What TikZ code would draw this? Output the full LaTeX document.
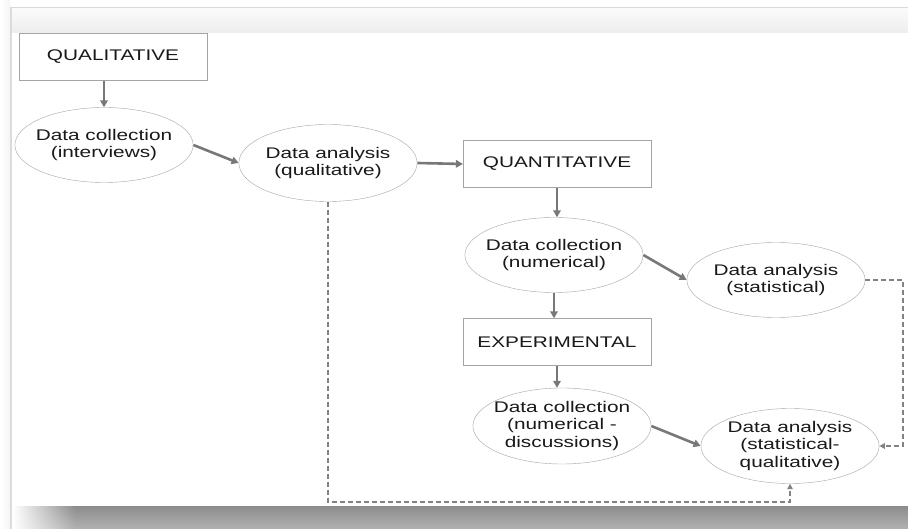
\documentclass[tikz,border=0pt]{standalone}
\usepackage{fontspec}
\setmainfont{Liberation Sans}
\usetikzlibrary{shapes.geometric,arrows.meta,fadings}
\definecolor{linegrey}{RGB}{165,165,165}
\definecolor{arrowgrey}{RGB}{120,120,120}
\definecolor{dashgrey}{RGB}{130,130,130}
\definecolor{inkgrey}{RGB}{25,25,25}
\definecolor{shadowgrey}{RGB}{140,140,140}
\tikzfading[name=shadowfade, left color=transparent!0, right color=transparent!100]

\begin{document}
\begin{tikzpicture}[x=1pt,y=-1pt,
  every node/.style={font=\fontsize{15.4}{17.6}\selectfont, text=inkgrey},
  stage/.style={draw=linegrey, thin, xscale=1.35, minimum width=139pt, minimum height=47pt, inner sep=0pt},
  oval/.style={ellipse, draw=linegrey, thin, xscale=1.35, minimum width=132pt, minimum height=75pt, inner xsep=-5pt, inner ysep=0pt, align=center},
  flow/.style={-{Triangle[length=7pt,width=7.5pt]}, arrowgrey, line width=2.6pt},
  feedback/.style={-{Triangle[length=5.5pt,width=5.5pt]}, dashgrey, line width=1.4pt, dash pattern=on 5pt off 3pt}]
\useasboundingbox (0,0) rectangle (908,529);

\fill [white] (0,0) rectangle (908,529);
\shade [left color=white, right color=black!4] (0,0) rectangle (10,529);
\shade [top color=black!2, bottom color=black!7] (11,9) rectangle (908,33);
\draw [black!15, line width=1pt] (10,8) -- (908,8);
\draw [black!14, line width=1.5pt] (11,8) -- (11,529);
\shade [top color=shadowgrey, bottom color=black!30] (13,506) rectangle (908,529);
\fill [white, path fading=shadowfade] (13,506) rectangle (75,529);

\node [stage] (qual) at (113,57) {QUALITATIVE};
\node [oval] (dcint) at (104,145) {Data collection\\(interviews)};
\node [oval, minimum height=77pt] (daqual) at (328,163) {Data analysis\\(qualitative)};
\node [stage] (quant) at (557,164) {QUANTITATIVE};
\node [oval] (dcnum) at (554,255) {Data collection\\(numerical)};
\node [oval] (dastat) at (776,280) {Data analysis\\(statistical)};
\node [stage] (exper) at (557,342) {EXPERIMENTAL};
\node [oval, minimum height=76pt] (dcdisc) at (562,426) {Data collection\\(numerical -\\discussions)};
\node [oval] (dasq) at (790,446) {Data analysis\\(statistical-\\qualitative)};

\draw [flow] (dcint.north |- qual.south) -- (dcint.north);
\draw [flow] (dcint.east) -- (daqual.west);
\draw [flow] (daqual.east) -- (quant.west);
\draw [flow] (quant.south) -- (quant.south |- dcnum.north);
\draw [flow] (dcnum.east) -- (dastat.west);
\draw [flow] (dcnum.south) -- (dcnum.south |- exper.north);
\draw [flow] (exper.south) -- (exper.south |- dcdisc.north);
\draw [flow] (dcdisc.east) -- (dasq.west);

\coordinate (base) at (0,502);
\coordinate (edge) at (903,0);
\draw [feedback] (daqual.south) -- (daqual.south |- base) -| (dasq.south);
\draw [feedback] (dastat.east) -- (dastat.east -| edge) |- (dasq.east);

\end{tikzpicture}
\end{document}
